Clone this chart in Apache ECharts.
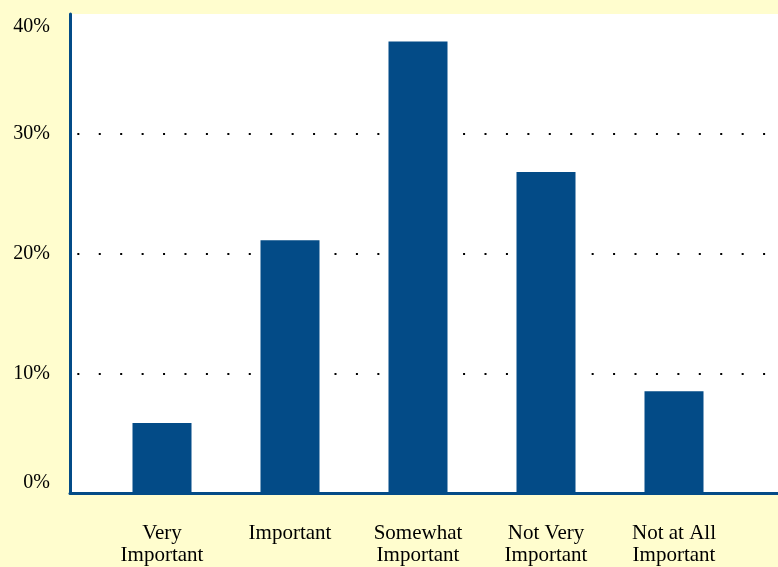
<!DOCTYPE html>
<html>
<head>
<meta charset="utf-8">
<script src="https://cdn.jsdelivr.net/npm/echarts@6/dist/echarts.min.js"></script>
<style>
html,body{margin:0;padding:0;background:#FFFDCE;}
#c{width:778px;height:567px;}
</style>
</head>
<body>
<div id="c"></div>
<script>
const categories = ['Very\nImportant', 'Important', 'Somewhat\nImportant', 'Not Very\nImportant', 'Not at All\nImportant'];
const values = [5.85, 21.1, 37.7, 26.8, 8.5];
const yTicks = [0, 10, 20, 30, 40];

const blue = '#034B87';
const font = 'Liberation Serif';

const chart = echarts.init(document.getElementById('c'), null, {renderer: 'canvas'});
chart.setOption({
  backgroundColor: '#FFFDCE',
  animation: false,
  grid: [
    {left: 70, right: 0, top: 14, bottom: 74, show: true, backgroundColor: '#ffffff', borderWidth: 0},
    {left: 98, right: 40, top: 14, bottom: 74, show: false}
  ],
  xAxis: [
    {
      gridIndex: 0, type: 'value', min: 0, max: 1,
      axisLine: {show: true, onZero: false, lineStyle: {color: blue, width: 3}},
      axisTick: {show: false}, axisLabel: {show: false}, splitLine: {show: false}
    },
    {
      gridIndex: 1, type: 'category', data: categories,
      axisLine: {show: false}, axisTick: {show: false},
      axisLabel: {
        interval: 0, margin: 29, color: '#000', fontFamily: font, fontSize: 21, lineHeight: 22
      }
    }
  ],
  yAxis: [
    {
      gridIndex: 0, type: 'value', min: yTicks[0], max: yTicks[yTicks.length - 1], interval: 10,
      axisLine: {show: true, lineStyle: {color: blue, width: 3}},
      axisTick: {show: false},
      axisLabel: {
        margin: 20, color: '#000', fontFamily: font, fontSize: 20,
        formatter: v => v + '%',
        verticalAlignMaxLabel: 'top', verticalAlignMinLabel: 'bottom',
        padding: [3, 0, 0, 0]
      },
      splitLine: {
        show: true, showMinLine: false, showMaxLine: false,
        lineStyle: {color: '#000', width: 2, type: [2, 19.43], dashOffset: 14.1}
      }
    },
    {
      gridIndex: 1, type: 'value', min: yTicks[0], max: yTicks[yTicks.length - 1], show: false,
      splitLine: {show: false}
    }
  ],
  series: [{
    type: 'bar', xAxisIndex: 1, yAxisIndex: 1,
    data: values, barWidth: 59,
    itemStyle: {color: blue},
    z: 5
  }]
});
</script>
</body>
</html>
